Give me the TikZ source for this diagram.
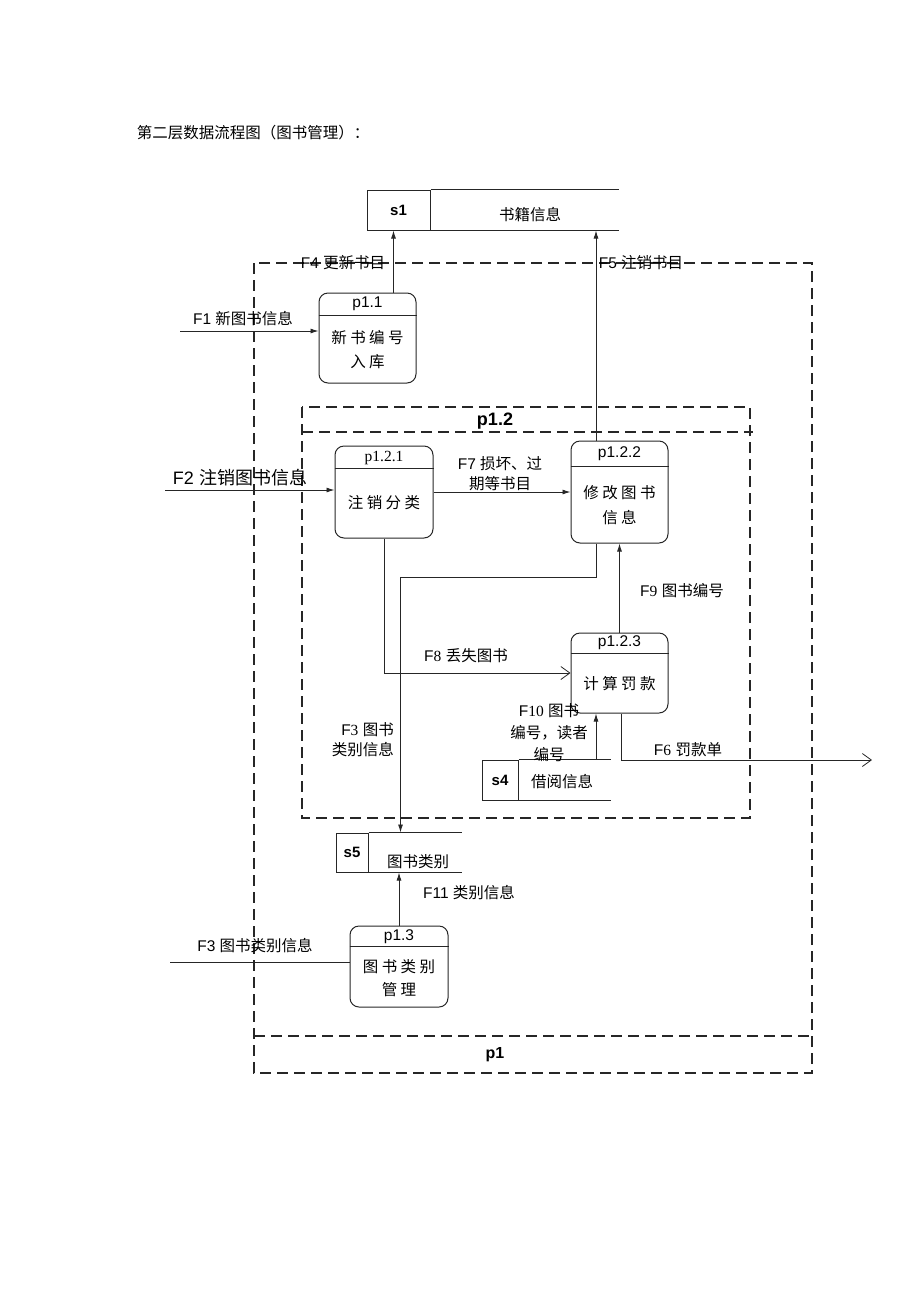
\documentclass[tikz,border=0pt]{standalone}
\usepackage{fontspec}
\setmainfont{Liberation Sans}
\newfontfamily\cjk{Noto Sans CJK SC}
\newfontfamily\enserif{Liberation Serif}
\usetikzlibrary{arrows.meta}
\tikzset{
  flow/.style={draw=black!85,line width=0.9pt},
  arr/.style={flow,-{Latex[length=8pt,width=5pt]}},
  oarr/.style={flow,-{Straight Barb[length=9pt,width=13pt,line width=0.8pt]}},
  dashbox/.style={draw=black!85,line width=1.05pt,dash pattern=on 11pt off 6pt},
  proc/.style={draw=black!85,line width=1pt,rounded corners=9pt,minimum width=97pt,inner sep=0pt},
  storeid/.style={draw=black!85,line width=1pt,inner sep=0pt,font=\fontsize{15}{17}\selectfont\bfseries},
  lbl/.style={inner sep=0pt,font=\fontsize{15.5}{20}\selectfont},
  boxtxt/.style={inner sep=0pt,align=center,font=\fontsize{15.5}{24}\selectfont\cjk},
}
\begin{document}
\begin{tikzpicture}[x=1pt,y=-1pt]
\useasboundingbox (0,0) rectangle (920,1302);
%%
\node (title) at (253,133) [lbl,font=\fontsize{15.5}{17}\selectfont\cjk] {第二层数据流程图（图书管理）：};
%% dashed process frames
\draw [dashbox] (254,263) rectangle (812,1073);
\draw [dashbox] (254,1036) -- (812,1036);
\node (p1) at (495,1055) [lbl,font=\fontsize{16}{18}\selectfont\bfseries] {p1};
\draw [dashbox] (302,407) rectangle (750,818);
\draw [dashbox] (302,432) -- (753,432);
\node (p12) at (495,421) [lbl,font=\fontsize{18}{20}\selectfont\bfseries] {p1.2};
%% data stores
\node (s1) at (398.5,210) [storeid,minimum width=63pt,minimum height=40pt] {s1};
\draw [flow,line width=1pt] (s1.north east) -- ++(188,0);
\draw [flow,line width=1pt] (s1.south east) -- ++(188,0);
\node (s1txt) at (530,215) [lbl,font=\fontsize{15.5}{17}\selectfont\cjk] {书籍信息};
\node (s4) at (500,780) [storeid,minimum width=36pt,minimum height=40pt] {s4};
\draw [flow,line width=1pt] (s4.north east) -- ++(92,0);
\draw [flow,line width=1pt] (s4.south east) -- ++(92,0);
\node (s4txt) at (562,782) [lbl,font=\fontsize{15.5}{17}\selectfont\cjk] {借阅信息};
\node (s5) at (352,852.5) [storeid,minimum width=32pt,minimum height=39pt] {s5};
\draw [flow,line width=1pt] (s5.north east) -- ++(93,0);
\draw [flow,line width=1pt] (s5.south east) -- ++(93,0);
\node (s5txt) at (418,862) [lbl,font=\fontsize{15.5}{17}\selectfont\cjk] {图书类别};
%% processes
\node (p11) at (367.5,338) [proc,minimum height=90pt] {};
\draw [flow] ([yshift=-23pt]p11.north west) -- ([yshift=-23pt]p11.north east);
\node (p11id) at (367.5,304) [lbl] {p1.1};
\node (p11txt) at (367.5,350) [boxtxt] {新 书 编 号\\入 库};
\node (p121) at (384,492) [proc,minimum width=98pt,minimum height=92pt] {};
\draw [flow] ([yshift=-23pt]p121.north west) -- ([yshift=-23pt]p121.north east);
\node (p121id) at (384,458) [lbl,font=\fontsize{15.5}{17}\selectfont\enserif] {p1.2.1};
\node (p121txt) at (384,503) [boxtxt] {注 销 分 类};
\node (p122) at (619.5,492) [proc,minimum height=102pt] {};
\draw [flow] ([yshift=-26pt]p122.north west) -- ([yshift=-26pt]p122.north east);
\node (p122id) at (619.5,454) [lbl] {p1.2.2};
\node (p122txt) at (619.5,505) [boxtxt,font=\fontsize{15.5}{25}\selectfont\cjk] {修 改 图 书\\信 息};
\node (p123) at (619.5,673) [proc,minimum height=80pt] {};
\draw [flow] ([yshift=-21pt]p123.north west) -- ([yshift=-21pt]p123.north east);
\node (p123id) at (619.5,643) [lbl] {p1.2.3};
\node (p123txt) at (619.5,684) [boxtxt] {计 算 罚 款};
\node (p13) at (399,966.5) [proc,minimum width=98pt,minimum height=81pt] {};
\draw [flow] ([yshift=-21pt]p13.north west) -- ([yshift=-21pt]p13.north east);
\node (p13id) at (399,937) [lbl] {p1.3};
\node (p13txt) at (399,978) [boxtxt,font=\fontsize{15.5}{23}\selectfont\cjk] {图 书 类 别\\管 理};
%% data flows
\coordinate (in1) at (180,331);
\draw [arr] (in1) -- (in1 -| p11.west);
\node (f1) at (243,319) [lbl] {F1 {\cjk 新图书信息}};
\coordinate (in2) at (165,490);
\draw [arr] (in2) -- (in2 -| p121.west);
\node (f2) at (240,478) [lbl,font=\fontsize{18}{20}\selectfont] {F2 {\cjk 注销图书信息}};
\coordinate (in3) at (170,962);
\draw [flow] (in3) -- (in3 -| p13.west);
\node (f3) at (255,946) [lbl] {F3 {\cjk 图书类别信息}};
\coordinate (f4a) at ([xshift=26pt]p11.north);
\draw [arr] (f4a) -- (f4a |- s1.south);
\node (f4) at (343,263) [lbl] {F4 {\cjk 更新书目}};
\coordinate (f5a) at ([xshift=-23.5pt]p122.north);
\draw [arr] (f5a) -- (f5a |- s1.south);
\node (f5) at (641,263) [lbl] {F5 {\cjk 注销书目}};
\draw [arr] (p121.east) -- (p122.west);
\node (f7) at (500,474) [lbl,align=center] {F7 {\cjk 损坏、过}\\{\cjk 期等书目}};
\coordinate (f3a) at ([xshift=-23.5pt]p122.south);
\draw [arr] (f3a) -- (f3a |- 0,577) -| ([xshift=32pt]s5.north east);
\node (f3b) at (394,740) [lbl,anchor=east,align=right] {F{\enserif 3} {\cjk 图书}\\{\cjk 类别信息}};
\draw [oarr] (p121.south) -- (p121.south |- p123.west) -- (p123.west);
\node (f8) at (466,656) [lbl] {F{\enserif 8} {\cjk 丢失图书}};
\draw [arr] (p123.north) -- (p122.south);
\node (f9) at (682,591) [lbl] {F{\enserif 9} {\cjk 图书编号}};
\coordinate (f10a) at ([xshift=-23.5pt]p123.south);
\draw [arr] (f10a |- s4.north) -- (f10a);
\node (f10) at (549,733) [lbl,align=center,font=\fontsize{15.5}{22}\selectfont] {F{\enserif 10} {\cjk 图书}\\{\cjk 编号，读者}\\{\cjk 编号}};
\coordinate (f6a) at ([xshift=1.5pt]p123.south);
\coordinate (out6) at (872,760);
\draw [oarr] (f6a) |- (out6);
\node (f6) at (688,750) [lbl] {F{\enserif 6} {\cjk 罚款单}};
\draw [arr] (p13.north) -- (p13.north |- s5.south);
\node (f11) at (469,893) [lbl] {F11 {\cjk 类别信息}};
%
\end{tikzpicture}
\end{document}
